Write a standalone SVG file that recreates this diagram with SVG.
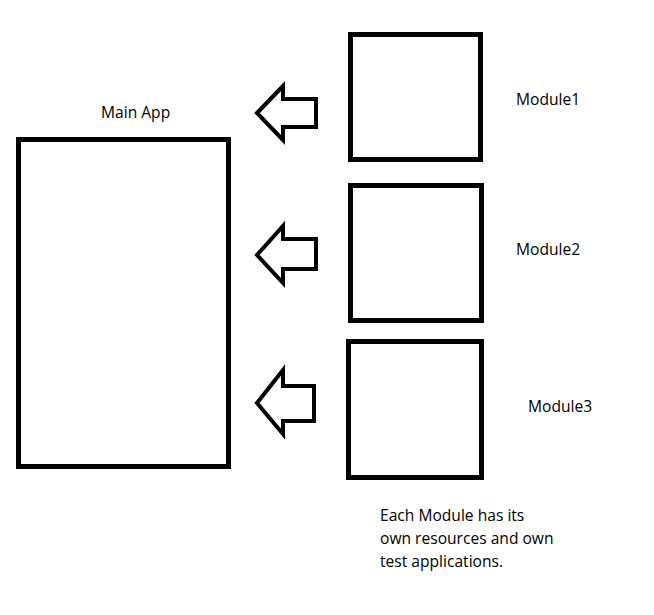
<svg xmlns="http://www.w3.org/2000/svg" width="654" height="615" viewBox="0 0 654 615">
<style>
.box{fill:#fff;stroke:#000;stroke-width:5}
.arr{fill:#fff;stroke:#000;stroke-width:4;stroke-linejoin:miter}
text{font-family:"Open Sans","Noto Sans","Liberation Sans",sans-serif;font-size:15.6px;fill:#000}
</style>
<rect width="654" height="615" fill="#fff"/>
<g id="main-app">
<rect class="box" x="18.5" y="139.5" width="210" height="327"/>
<text x="101" y="118">Main App</text>
</g>
<g id="module1">
<rect class="box" x="350.5" y="34.5" width="130" height="125"/>
<text x="516" y="105">Module1</text>
</g>
<g id="module2">
<rect class="box" x="350.5" y="185.5" width="131" height="135"/>
<text x="516" y="255">Module2</text>
</g>
<g id="module3">
<rect class="box" x="348.5" y="341.5" width="133" height="136"/>
<text x="528" y="412">Module3</text>
</g>
<g id="connectors">
<polygon class="arr" points="257,113 283,86 283,99 316,99 316,127 283,127 283,140"/>
<polygon class="arr" points="257,255 283,226 283,239 316,239 316,269 283,269 283,283"/>
<polygon class="arr" points="257,403 283,370 283,386 314,386 314,421 283,421 283,434"/>
</g>
<g id="note">
<text x="380" y="521">Each Module has its</text>
<text x="380" y="544">own resources and own</text>
<text x="380" y="567">test applications.</text>
</g>
</svg>
